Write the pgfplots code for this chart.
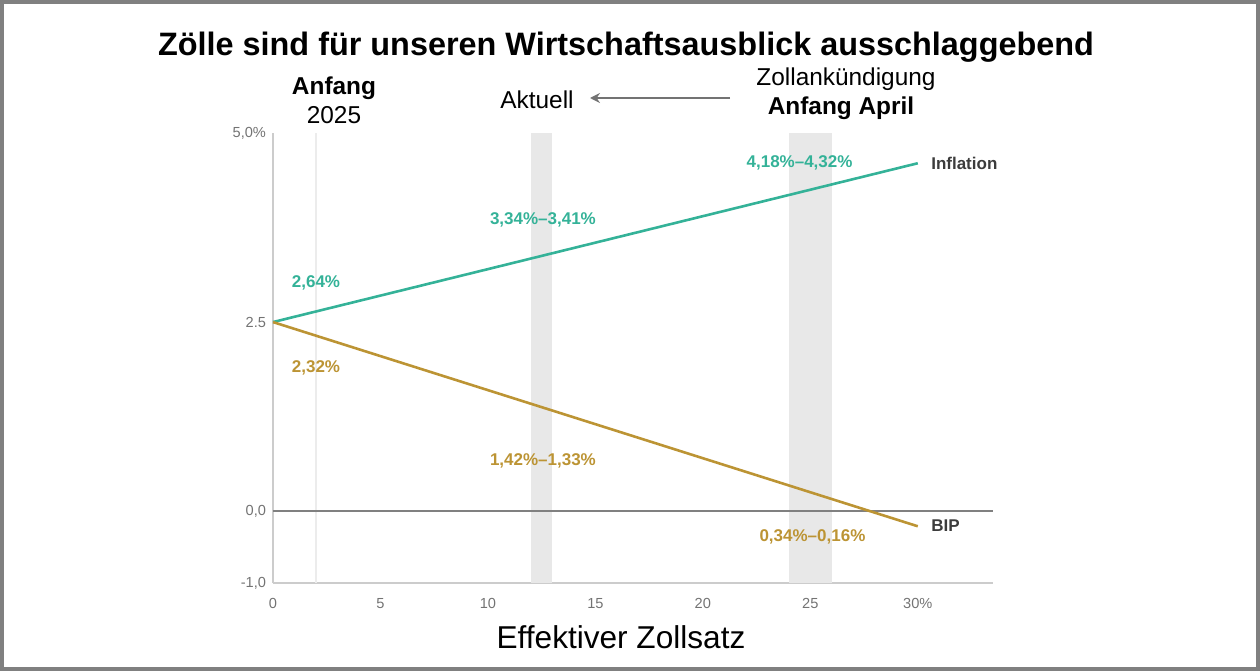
\documentclass[border=0pt]{standalone}
\usepackage{pgfplots}
\pgfplotsset{compat=1.18}
\usepackage{fontspec}
\setmainfont{Liberation Sans}
\usetikzlibrary{arrows.meta}
\definecolor{infl}{RGB}{52,178,152}
\definecolor{bip}{RGB}{188,148,52}
\definecolor{lbl}{RGB}{60,60,60}

\begin{document}
\begin{tikzpicture}
\useasboundingbox (-136.5pt,-44pt) rectangle (493.5pt,291.5pt);
\draw[gray, line width=2pt] (-135.5pt,-43pt) rectangle (492.5pt,290.5pt);
\begin{axis}[
  at={(0,0)}, anchor=south west,
  scale only axis, width=360pt, height=225pt,
  xmin=0, xmax=33.5, ymin=-0.95, ymax=5,
  axis x line=bottom, axis y line=left,
  axis line style={-, draw=gray!40, line width=0.7pt},
  xtick={0,5,...,30}, xticklabels={0,5,10,15,20,25,30\%},
  ytick={-0.95,0,2.5,5}, yticklabels={{-1,0},{0,0},2.5,{5,0\%}},
  major tick length=0pt,
  tick label style={font=\fontsize{7.3}{8}\selectfont, text=black!55},
  xticklabel style={yshift=-4pt},
  /pgf/number format/assume math mode=true,
  clip=false,
]
% shaded periods
\addplot[draw=none, fill=gray!18] coordinates {(12,-0.95) (13,-0.95) (13,5) (12,5)} -- cycle;
\addplot[draw=none, fill=gray!18] coordinates {(24,-0.95) (26,-0.95) (26,5) (24,5)} -- cycle;
% start of 2025
\addplot[gray!15, line width=0.6pt] coordinates {(2,-0.95) (2,5)};
% zero line
\addplot[gray, line width=0.8pt] coordinates {(0,0) (33.5,0)};
% scenarios
\addplot[infl, line width=1.3pt] coordinates {(0,2.5) (30,4.6)};
\addplot[bip, line width=1.3pt] coordinates {(0,2.5) (30,-0.2)};

\begin{scope}[font=\bfseries\fontsize{8.5}{10}\selectfont]
\node[text=infl] at (axis cs:2,3.02) {2,64\%};
\node[text=bip] at (axis cs:2,1.89) {2,32\%};
\node[text=infl] at (axis cs:12.56,3.85) {3,34\%--3,41\%};
\node[text=bip] at (axis cs:12.56,0.66) {1,42\%--1,33\%};
\node[text=infl] at (axis cs:24.5,4.6) {4,18\%--4,32\%};
\node[text=bip] at (axis cs:25.1,-0.34) {0,34\%--0,16\%};
\node[text=lbl, anchor=west] at (axis cs:30.3,4.6) {Inflation};
\node[text=lbl, anchor=west] at (axis cs:30.3,-0.19) {BIP};
\end{scope}
\end{axis}

\begin{scope}[shift={(-136.5pt,291.5pt)}, x=0.5pt, y=-0.5pt]
\node[font=\bfseries\fontsize{16.2}{19}\selectfont] at (626,47) {Zölle sind für unseren Wirtschaftsausblick ausschlaggebend};
\node[font=\bfseries\fontsize{12.2}{14}\selectfont] at (334,88) {Anfang};
\node[font=\fontsize{12.2}{14}\selectfont] at (334,115) {2025};
\node[font=\fontsize{12.2}{14}\selectfont] at (537,100) {Aktuell};
\draw[black!55, line width=1.3pt, -{Stealth[length=5pt,width=5pt]}] (730,98) -- (590,98);
\node[font=\fontsize{12.2}{14}\selectfont] at (846,79) {Zollankündigung};
\node[font=\bfseries\fontsize{12.2}{14}\selectfont] at (841,108) {Anfang April};
\node[font=\fontsize{15.8}{19}\selectfont] at (621,637) {Effektiver Zollsatz};
\end{scope}
\end{tikzpicture}
\end{document}
